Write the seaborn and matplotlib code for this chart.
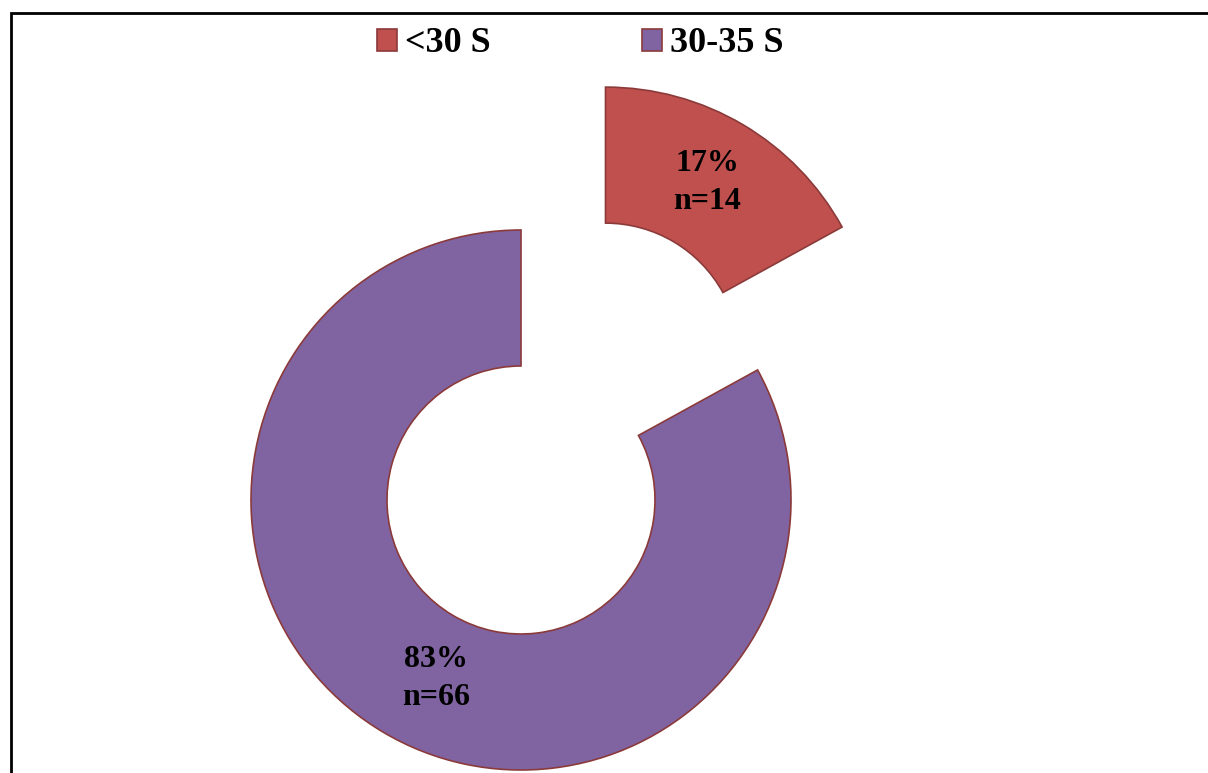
import numpy as np
import matplotlib
matplotlib.use("Agg")
import matplotlib.pyplot as plt
from matplotlib.patches import Rectangle
import seaborn as sns

categories = ["<30 S", "30-35 S"]
counts = [14, 66]
percents = [17, 83]
colors = ["#C0504D", "#8064A2"]

sns.set_theme(style="white")
plt.rcParams['font.family'] = ['Liberation Serif', 'DejaVu Serif']
plt.rcParams['text.color'] = 'black'

W, H = 1208, 773
fig = plt.figure(figsize=(W / 100, H / 100), dpi=100)
ax = fig.add_axes([0, 0, 1, 1])
ax.set_xlim(0, W)
ax.set_ylim(0, H)
ax.set_aspect('equal')
ax.axis('off')

R = 270
cx, cy = 521, H - 500
explode_dist = 166
wedges, texts = ax.pie(
    percents, colors=colors, startangle=90, counterclock=False,
    radius=R, center=(cx, cy), explode=[explode_dist, 0],
    wedgeprops=dict(width=136, edgecolor="#8B3A3A", linewidth=1.2),
    frame=True,
)
ax.set_xlim(0, W)
ax.set_ylim(0, H)
ax.axis('off')

# labels inside wedges
offsets = [0.75, 0.733]
angle_adj = [0.4, 5.2]
for w, p, n, f, adj in zip(wedges, percents, counts, offsets, angle_adj):
    ang = np.deg2rad((w.theta1 + w.theta2) / 2 + adj)
    x = w.center[0] + f * R * np.cos(ang)
    y = w.center[1] + f * R * np.sin(ang)
    ax.text(x, y, f"{p}%\nn={n}", ha='center', va='center',
            fontsize=23, fontweight='bold', color='black', linespacing=1.4)

leg = ax.legend(wedges, categories, loc='center', bbox_to_anchor=(580 / W, 1 - 44 / H),
                bbox_transform=fig.transFigure, ncol=2, frameon=False,
                prop=dict(size=26, weight='bold'), handlelength=0.55, handleheight=0.55,
                handletextpad=0.22, columnspacing=4.2, borderpad=0)
for t in leg.get_texts():
    t.set_color('black')

fig.patches.append(Rectangle((11 / W, -0.05), 1.2, (H - 13) / H + 0.05,
                             transform=fig.transFigure, fill=False,
                             edgecolor='black', linewidth=2))

fig.savefig("out.png", dpi=100, facecolor='white')
